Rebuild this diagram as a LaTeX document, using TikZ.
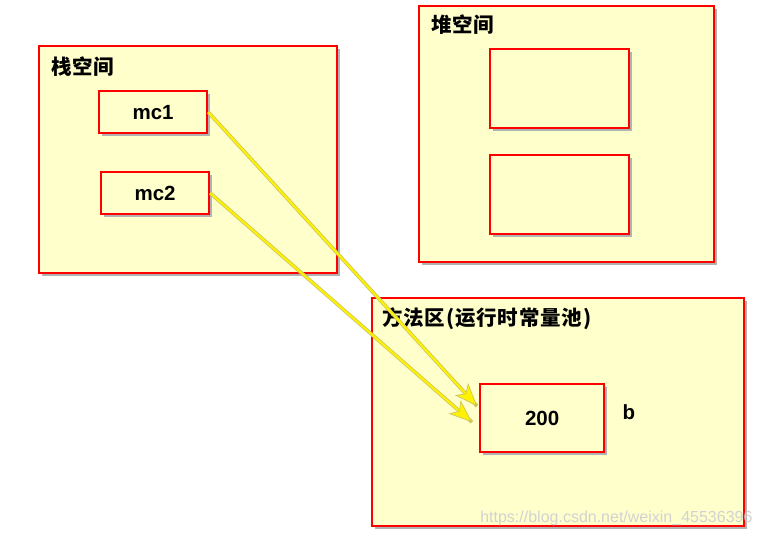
\documentclass[tikz,border=0pt]{standalone}
\usepackage{fontspec}
\setmainfont{Liberation Sans}
\newfontfamily\cjk[LetterSpace=4]{Noto Sans CJK SC}
\usetikzlibrary{shadows,arrows.meta}
\definecolor{memo}{HTML}{FFFFCC}

\tikzset{
  area/.style={draw=red, line width=2.2pt, fill=memo, anchor=north west,
    general shadow={fill=black!30, shadow xshift=3pt, shadow yshift=-3pt}},
  title/.style={anchor=north west, inner sep=0pt, font=\cjk\bfseries\fontsize{20.5}{20.5}\selectfont},
  val/.style={font=\bfseries\fontsize{20.5}{20.5}\selectfont},
  link/.style={draw=yellow, line width=2pt,
    preaction={draw=yellow!55!gray, line width=3.6pt, -},
    -{Stealth[length=23pt,width=18pt,inset=6pt,fill=yellow,color=yellow!55!gray,line width=0.7pt]}}
}

\begin{document}
\begin{tikzpicture}[x=1pt,y=-1pt]
		%%%%% START %%%%%
		\useasboundingbox[fill=white] (0,0) rectangle (762,537);
		
		% stack
		\node[area, minimum width=298, minimum height=227] (stack) at (38,45) {};
		\node[title] (stacktitle) at (51,57) {栈空间};
		\node[area, minimum width=108, minimum height=42] (mc1) at (98,90) {};
		\node[val] at (mc1.center) {mc1};
		\node[area, minimum width=108, minimum height=42] (mc2) at (100,171) {};
		\node[val] at (mc2.center) {mc2};
		
		% heap
		\node[area, minimum width=295, minimum height=256] (heap) at (418,5) {};
		\node[title] (heaptitle) at (431,15) {堆空间};
		\node[area, minimum width=139, minimum height=79] (obj1) at (489,48) {};
		\node[area, minimum width=139, minimum height=79] (obj2) at (489,154) {};
		
		% method area
		\node[area, minimum width=372, minimum height=228] (method) at (371,297) {};
		\node[title] (methodtitle) at (382,307) {方法区(运行时常量池)};
		\node[area, minimum width=124, minimum height=68] (num) at (479,383) {};
		\node[val] at (num.center) {200};
		\node[val, anchor=west] (b) at (619,412) {b};
		
		\coordinate (tip1) at ([xshift=-2pt,yshift=12pt]num.west);
		\coordinate (tip2) at ([xshift=-7pt,yshift=-4pt]num.west);
		\draw[link] (mc1.east) -- (tip1);
		\draw[link] (mc2.east) -- (tip2);
		
		\node[anchor=east, text=gray!35, font=\fontsize{16}{16}\selectfont] (mark) at (756,518) {https://blog.csdn.net/weixin\_45536396};
		%%%%% END %%%%%
	\end{tikzpicture}
\end{document}
